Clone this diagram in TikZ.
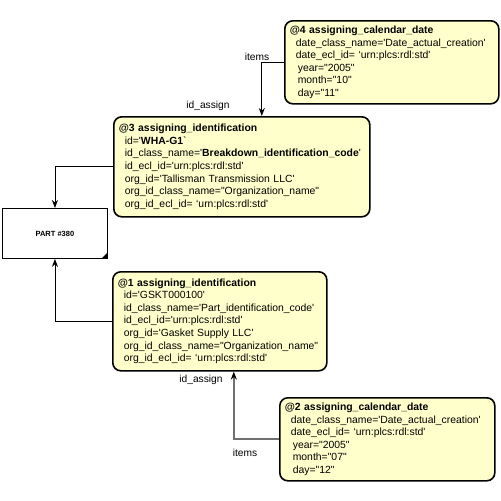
\documentclass[tikz,border=0pt]{standalone}
\usepackage{fontspec}
\setmainfont{Liberation Sans}[Ligatures=TeXOff]
\usetikzlibrary{arrows.meta,positioning}
\definecolor{notefill}{RGB}{255,255,204}
\definecolor{linkgray}{RGB}{112,112,112}
\newcommand{\ind}{\hspace*{6pt}}
\newcommand{\indd}{\hspace*{8pt}}
\begin{document}
\begin{tikzpicture}[x=1pt,y=-1pt,>={Stealth[length=8pt,width=6pt,color=black]},
    inst/.style={draw,line width=1.6pt,rounded corners=8pt,fill=notefill,anchor=north west,
      align=left,inner xsep=4pt,inner ysep=0pt,font=\fontsize{10.4}{12.6}\selectfont},
    link/.style={->,line width=0.9pt},
    lbl/.style={font=\fontsize{10.2}{11}\selectfont,inner sep=0pt}]
\useasboundingbox (0,0) rectangle (501,501);

\node[inst,minimum width=214pt,minimum height=83pt,text width=204pt] (A4) at (284,20)
  {\textbf{@4 assigning\_calendar\_date}\\
   \ind date\_class\_name='Date\_actual\_creation'\\
   \ind date\_ecl\_id= ‘urn:plcs:rdl:std'\\
   \indd year="2005"\\
   \indd month="10"\\
   \indd day="11"};

\node[inst,minimum width=256pt,minimum height=100pt,text width=246pt] (A3) at (113,116)
  {\textbf{@3 assigning\_identification}\\
   \ind id='\textbf{WHA-G1}`\\
   \ind id\_class\_name='\textbf{Breakdown\_identification\_code}'\\
   \ind id\_ecl\_id='urn:plcs:rdl:std'\\
   \ind org\_id='Tallisman Transmission LLC'\\
   \ind org\_id\_class\_name="Organization\_name"\\
   \ind org\_id\_ecl\_id= ‘urn:plcs:rdl:std'};

\node[draw,line width=0.9pt,minimum width=105pt,minimum height=50pt,anchor=north west,
  font=\fontsize{7.5}{8}\selectfont\bfseries] (P) at (2,208) {PART \#380};
\fill ([shift={(-6pt,0.6pt)}]P.south east) -- ([shift={(-0.6pt,0.6pt)}]P.south east)
  -- ([shift={(-0.6pt,6pt)}]P.south east) -- cycle;

\node[inst,minimum width=214pt,minimum height=99pt,text width=204pt] (A1) at (112,271)
  {\textbf{@1 assigning\_identification}\\
   \ind id='GSKT000100'\\
   \ind id\_class\_name='Part\_identification\_code'\\
   \ind id\_ecl\_id='urn:plcs:rdl:std'\\
   \ind org\_id='Gasket Supply LLC'\\
   \ind org\_id\_class\_name="Organization\_name"\\
   \ind org\_id\_ecl\_id= ‘urn:plcs:rdl:std'};

\node[inst,minimum width=215pt,minimum height=83pt,text width=205pt] (A2) at (279,397)
  {\textbf{@2 assigning\_calendar\_date}\\
   \ind date\_class\_name='Date\_actual\_creation'\\
   \ind date\_ecl\_id= ‘urn:plcs:rdl:std'\\
   \indd year="2005"\\
   \indd month="07"\\
   \indd day="12"};

\draw[link] (A4.west) -| ([xshift=20pt]A3.north);
\draw[link] (A3.west) -| (P.north);
\draw[link] (A1.west) -| (P.south);
\draw[link,draw=linkgray,line width=1.8pt] (A2.west) -| ([xshift=14pt]A1.south);

\node[lbl] (L1) at (257,57) {items};
\node[lbl] (L2) at (208,106) {id\_assign};
\node[lbl] (L3) at (201,380) {id\_assign};
\node[lbl] (L4) at (245,453) {items};
\end{tikzpicture}
\end{document}
